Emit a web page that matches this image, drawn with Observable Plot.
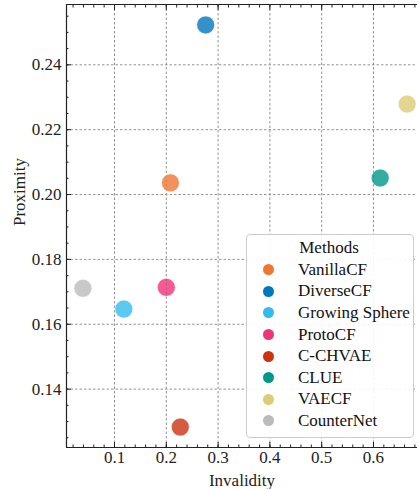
<!DOCTYPE html>
<html>
<head>
<meta charset="utf-8">
<script src="https://cdn.jsdelivr.net/npm/d3@7"></script>
<script src="https://cdn.jsdelivr.net/npm/@observablehq/plot@0.6"></script>
<style>
  html, body { margin: 0; padding: 0; background: #fff; }
  #wrap { position: relative; width: 417px; height: 489px; overflow: hidden; font-family: 'Liberation Serif', 'Times New Roman', 'DejaVu Serif', serif; }
  #legend { position: absolute; left: 246px; top: 234px; width: 168px; height: 204px; border: 1px solid #cccccc; border-radius: 4px; background: rgba(255,255,255,0.9); box-sizing: border-box; font-family: 'Liberation Serif', 'Times New Roman', 'DejaVu Serif', serif; font-size: 17px; color: #111; }
  #legend .title { text-align: center; margin-top: 1px; height: 23px; line-height: 23px; padding-right: 2px; }
  #legend .row { display: flex; align-items: center; height: 21.6px; }
  #legend .dot { width: 11px; height: 11px; border-radius: 50%; margin-left: 16px; margin-right: 24px; flex: none; }
  svg text { font-family: 'Liberation Serif', 'Times New Roman', 'DejaVu Serif', serif !important; }
</style>
</head>
<body>
<div id="wrap"></div>
<script>
const methods = ["VanillaCF", "DiverseCF", "Growing Sphere", "ProtoCF", "C-CHVAE", "CLUE", "VAECF", "CounterNet"];
const invalidity = [0.208, 0.276, 0.118, 0.200, 0.227, 0.613, 0.665, 0.039];
const proximity = [0.2036, 0.2523, 0.1647, 0.1714, 0.1283, 0.2051, 0.2279, 0.1711];
const colors = ["#EE7733", "#0077BB", "#33BBEE", "#EE3377", "#CC3311", "#009988", "#DDCC77", "#BBBBBB"];
const xMajor = [0.1, 0.2, 0.3, 0.4, 0.5, 0.6];
const yMajor = [0.14, 0.16, 0.18, 0.20, 0.22, 0.24];
const xMinor = d3.range(1, 35).map(i => +(i * 0.02).toFixed(2));
const yMinor = d3.range(25, 52).map(i => +(i * 0.005).toFixed(3));
const xDomain = [0.0073, 0.685];
const yDomain = [0.122, 0.2586];
const legendTitle = "Methods";
const xLabel = "Invalidity";
const yLabel = "Proximity";

const data = methods.map((m, i) => ({method: m, x: invalidity[i], y: proximity[i]}));

const font = "'Liberation Serif', 'Times New Roman', 'DejaVu Serif', serif";
const plot = Plot.plot({
  width: 417,
  height: 489,
  marginLeft: 66,
  marginRight: 0,
  marginTop: 4,
  marginBottom: 42,
  style: {fontFamily: font, fontSize: "17px", color: "#222", background: "white"},
  x: {domain: xDomain, label: null},
  y: {domain: yDomain, label: null},
  color: {domain: methods, range: colors},
  marks: [
    Plot.gridX(xMajor, {stroke: "#888", strokeOpacity: 1, strokeWidth: 0.9, strokeDasharray: "2.5,2"}),
    Plot.gridY(yMajor, {stroke: "#888", strokeOpacity: 1, strokeWidth: 0.9, strokeDasharray: "2.5,2"}),
    Plot.ruleX([xDomain[0]], {stroke: "#222", strokeWidth: 1.2}),
    Plot.ruleY([yDomain[0], yDomain[1]], {stroke: "#222", strokeWidth: 1.2}),
    Plot.axisX(xMajor, {anchor: "bottom", tickSize: -5, tickFormat: () => "", stroke: "#222"}),
    Plot.axisX(xMajor, {anchor: "top", tickSize: -5, tickFormat: () => "", stroke: "#222"}),
    Plot.axisY(yMajor, {anchor: "left", tickSize: -5, tickFormat: () => "", stroke: "#222"}),
    Plot.axisX(xMinor, {anchor: "bottom", tickSize: -2.5, tickFormat: () => "", stroke: "#222"}),
    Plot.axisX(xMinor, {anchor: "top", tickSize: -2.5, tickFormat: () => "", stroke: "#222"}),
    Plot.axisY(yMinor, {anchor: "left", tickSize: -2.5, tickFormat: () => "", stroke: "#222"}),
    Plot.axisX(xMajor, {anchor: "bottom", tickSize: 0, tickPadding: 3, tickFormat: d => d.toFixed(1), label: null, fill: "#222", fontSize: 17}),
    Plot.axisY(yMajor, {anchor: "left", tickSize: 0, tickPadding: 5, tickFormat: d => d.toFixed(2), label: null, fill: "#222", fontSize: 17}),
    Plot.text([xLabel], {frameAnchor: "bottom", lineAnchor: "middle", dy: 33, fill: "#222", fontSize: 17}),
    Plot.text([yLabel], {frameAnchor: "left", dx: -47, rotate: -90, fill: "#222", fontSize: 17}),
    Plot.dot(data, {x: "x", y: "y", fill: "method", r: 9, fillOpacity: 0.8, stroke: "white", strokeWidth: 0.6})
  ]
});

const wrap = document.getElementById("wrap");
wrap.appendChild(plot);

const leg = document.createElement("div");
leg.id = "legend";
const t = document.createElement("div");
t.className = "title";
t.textContent = legendTitle;
leg.appendChild(t);
methods.forEach((m, i) => {
  const row = document.createElement("div");
  row.className = "row";
  const dot = document.createElement("span");
  dot.className = "dot";
  dot.style.background = colors[i];
  const lab = document.createElement("span");
  lab.textContent = m;
  row.appendChild(dot);
  row.appendChild(lab);
  leg.appendChild(row);
});
wrap.appendChild(leg);
</script>
</body>
</html>
